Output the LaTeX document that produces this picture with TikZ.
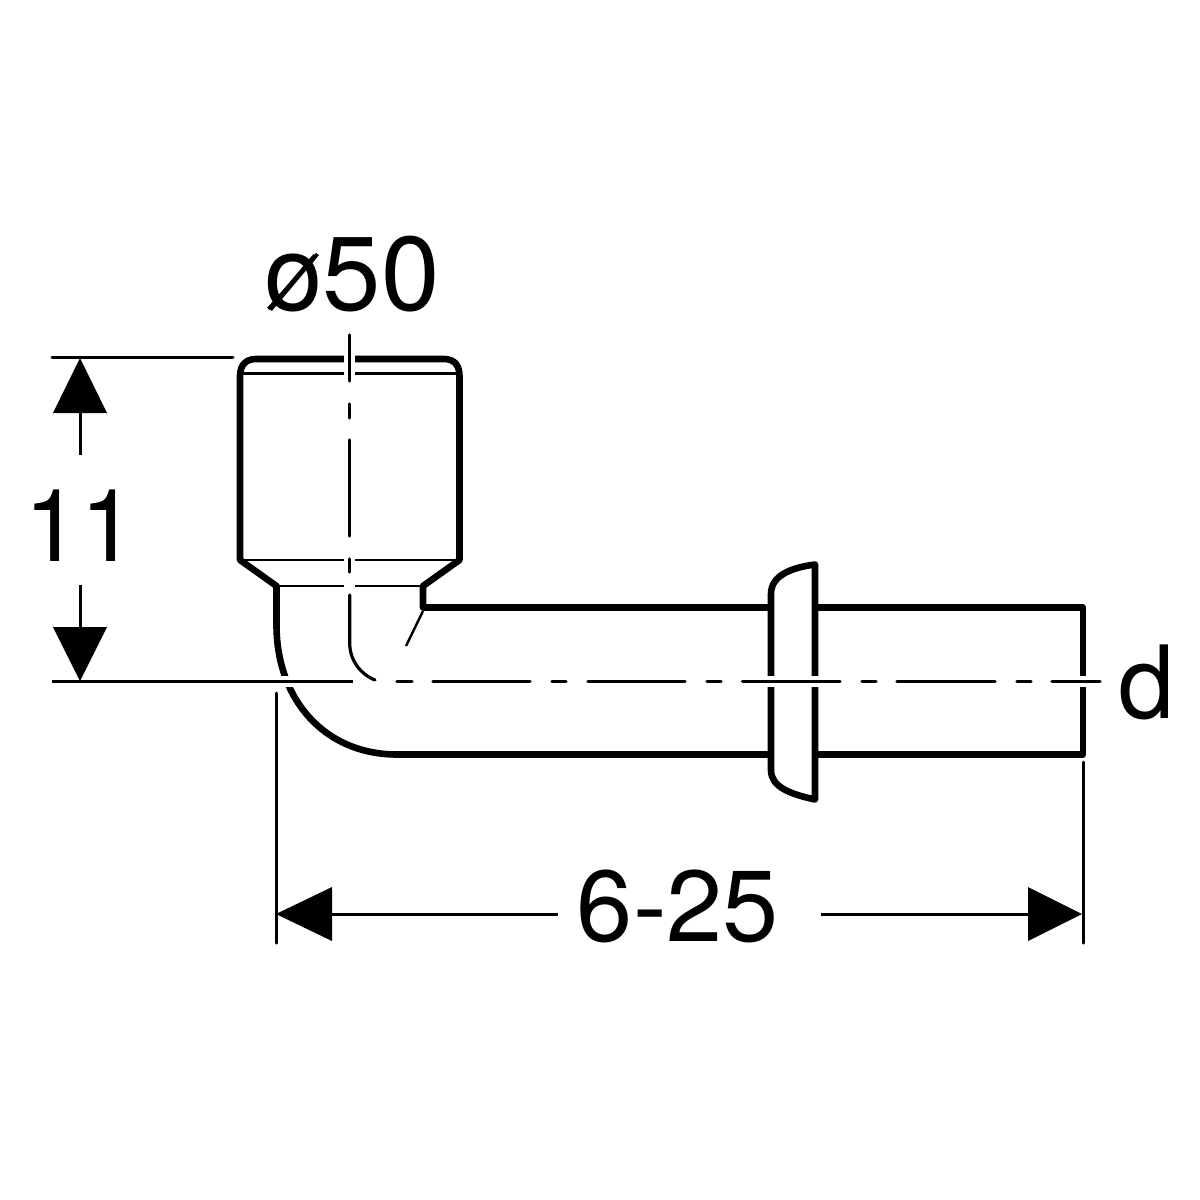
\documentclass[tikz,border=0pt]{standalone}
\usepackage{fontspec}
\setmainfont{TeX Gyre Heros}
\usetikzlibrary{calc}
\tikzset{
  thick line/.style={line width=6.6pt,line join=round,line cap=round},
  thin line/.style={line width=2.8pt},
  dim line/.style={line width=3pt},
  centre line/.style={line width=3.2pt,line cap=round},
  gap/.style={fill=white,draw=none},
  head/.style={fill=black,draw=none},
  lbl/.style={font=\fontsize{101}{101}\selectfont,inner sep=0pt,text=black}
}
\begin{document}
\begin{tikzpicture}[x=1pt,y=-1pt]
\useasboundingbox[fill=white] (0,0) rectangle (1200,1200);
% named points
\coordinate (dimLo) at (276,914);
\coordinate (dimHi) at (1082,914);
\coordinate (vTop) at (80,358);
\coordinate (vBot) at (80,681);
% socket
\draw[thick line] (276.5,586) -- (240,560) -- (240,376) .. controls (240,365) and (246,359) .. (256,359)
  -- (444,359) .. controls (454,359) and (459.5,365) .. (459.5,376) -- (459.5,560) -- (423,586) -- (423,607.5) -- (771,607.5);
\draw[thin line] (240,373.5) -- (459.5,373.5);
\draw[thin line] (240,560) -- (459.5,560);
\draw[thin line] (276.5,586) -- (423,586);
\draw[line width=2.4pt] (423,611) -- (406,646);
% elbow and tail
\draw[thick line] (276.5,586) -- (276.5,625) .. controls (276.5,700) and (325,754.5) .. (397,754.5) -- (771,754.5);
\draw[thick line] (815,607.5) -- (1083,607.5) -- (1083,754.5) -- (815,754.5);
% collar
\draw[thick line,fill=white] (771,594) .. controls (771,577) and (788,568) .. (815,564.5) -- (815,799.5)
  .. controls (790,794) and (771,787) .. (771,770) -- cycle;
% gaps at the centre lines
\fill[gap] (344,350) rectangle (355,380);
\fill[gap] (344,555) rectangle (355,590);
\fill[gap] (270,676) rectangle (300,687);
\fill[gap] (760,676) rectangle (826,687);
\fill[gap] (1075,676) rectangle (1091,687);
% centre lines
\draw[centre line] (349.7,335) -- (349.7,381);
\draw[centre line] (349.7,404) -- (349.7,418);
\draw[centre line] (349.7,440) -- (349.7,536);
\draw[centre line] (349.7,559) -- (349.7,572);
\draw[centre line] (349.7,595) -- (349.7,643) .. controls (349.7,660) and (360,674) .. (375,680);
\draw[centre line] (397,681.7) -- (412,681.7);
\foreach \a/\b in {433/530,552/566,588/685,707/721,742.5/840,862/876,897/995,1017/1031,1052/1100}
  \draw[centre line] (\a,681.7) -- (\b,681.7);
\draw[dim line] (52,681.7) -- (353,681.7);
% extension lines
\draw[dim line,line cap=round] (52,357) -- (233,357);
\draw[dim line,line cap=round] (276,693) -- (276,943);
\draw[dim line,line cap=round] (1083,762) -- (1083,943);
% dimension 11
\fill[head] (vTop) -- (107,413) -- (53,413) -- cycle;
\fill[head] (vBot) -- (107,627) -- (53,627) -- cycle;
\draw[dim line] (80,413) -- (80,455);
\draw[dim line] (80,585) -- (80,627);
\node[lbl] (t11) at (80.5,526) {11};
% dimension 6-25
\fill[head] (dimLo) -- (332,887) -- (332,941) -- cycle;
\fill[head] (dimHi) -- (1028,887) -- (1028,941) -- cycle;
\draw[dim line] (332,914) -- (558,914);
\draw[dim line] (821,914) -- (1028,914);
\node[lbl] (t625) at (678,906) {6-25};
% labels
\node[lbl] (td) at (1147,682) {d};
\node[lbl,font=\fontsize{105}{105}\selectfont] (t50) at (352,274) {ø50};
\draw[line width=3.6pt] (268.5,309) -- (317.5,254);
\end{tikzpicture}
\end{document}
